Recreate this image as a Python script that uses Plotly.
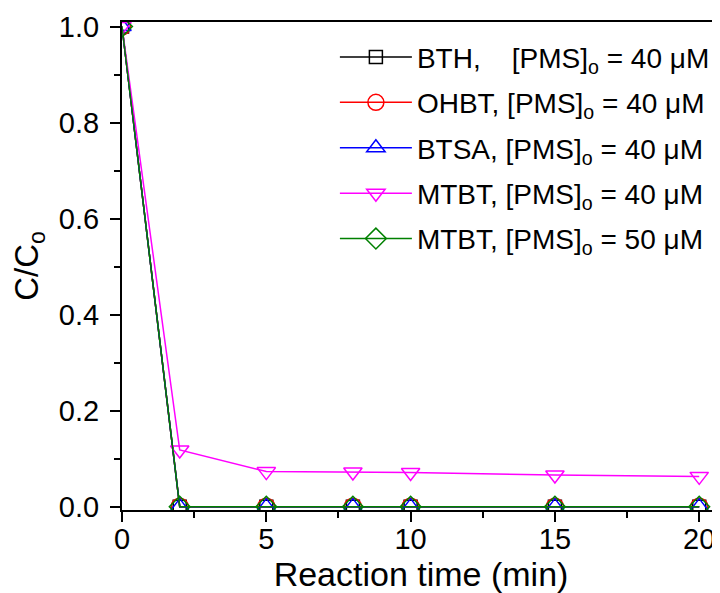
import plotly.graph_objects as go

time_min = [0, 2, 5, 8, 10, 15, 20]
bth_40 = [1.0, 0.0, 0.0, 0.0, 0.0, 0.0, 0.0]
ohbt_40 = [1.0, 0.0, 0.0, 0.0, 0.0, 0.0, 0.0]
btsa_40 = [1.0, 0.0, 0.0, 0.0, 0.0, 0.0, 0.0]
mtbt_40 = [1.0, 0.118, 0.073, 0.072, 0.071, 0.066, 0.063]
mtbt_50 = [1.0, 0.0, 0.0, 0.0, 0.0, 0.0, 0.0]

series_names = [
    "BTH,\u00a0\u00a0\u00a0\u00a0[PMS]<sub>o</sub> = 40 \u03bcM",
    "OHBT, [PMS]<sub>o</sub> = 40 \u03bcM",
    "BTSA, [PMS]<sub>o</sub> = 40 \u03bcM",
    "MTBT, [PMS]<sub>o</sub> = 40 \u03bcM",
    "MTBT, [PMS]<sub>o</sub> = 50 \u03bcM",
]
series_values = [bth_40, ohbt_40, btsa_40, mtbt_40, mtbt_50]
colors = ["#000000", "#FF0000", "#0000FF", "#FF00FF", "#008000"]
symbols = ["square-open", "circle-open", "triangle-up-open", "triangle-down-open", "diamond-open"]
sizes = [13, 17, 16, 16, 16]

FONT = "Arial, Liberation Sans, sans-serif"

fig = go.Figure()
for i, (name, vals) in enumerate(zip(series_names, series_values)):
    fig.add_trace(go.Scatter(
        x=time_min, y=vals, name=name, mode="lines+markers",
        line=dict(color=colors[i], width=1.5),
        marker=dict(symbol=symbols[i], size=sizes[i], color=colors[i],
                    line=dict(color=colors[i], width=1.5)),
        legendgroup=f"g{i}", cliponaxis=True,
    ))

# the page body has an 8px margin, so the figure is sized/offset to compensate
fig.update_layout(
    width=712, height=585,
    margin=dict(l=114, r=0, t=14, b=83, autoexpand=False),
    paper_bgcolor="white", plot_bgcolor="white",
    font=dict(family=FONT, color="black"),
    showlegend=True,
    legend=dict(
        x=0.356, y=0.979, xanchor="left", yanchor="top",
        font=dict(family=FONT, size=28, color="black"),
        bgcolor="rgba(0,0,0,0)", itemwidth=72, tracegroupgap=6,
    ),
)
fig.update_xaxes(
    range=[0, 20.72], tickmode="array", tickvals=[0, 5, 10, 15, 20],
    ticktext=["0", "5", "10", "15", "20"],
    showline=True, linecolor="black", linewidth=2, mirror=True,
    ticks="outside", ticklen=10, tickwidth=2, tickcolor="black",
    minor=dict(tickvals=[2.5, 7.5, 12.5, 17.5], ticks="outside", ticklen=6, tickwidth=2, tickcolor="black"),
    showgrid=False, zeroline=False, automargin=False,
    tickfont=dict(size=29), ticklabelstandoff=-8,
    title=dict(text="Reaction time (min)", font=dict(size=34), standoff=12),
)
fig.update_yaxes(
    range=[-0.007, 1.0095], tickmode="array", tickvals=[0, 0.2, 0.4, 0.6, 0.8, 1.0],
    ticktext=["0.0", "0.2", "0.4", "0.6", "0.8", "1.0"],
    showline=True, linecolor="black", linewidth=2, mirror=False,
    ticks="outside", ticklen=10, tickwidth=2, tickcolor="black",
    minor=dict(tickvals=[0.1, 0.3, 0.5, 0.7, 0.9], ticks="outside", ticklen=6, tickwidth=2, tickcolor="black"),
    showgrid=False, zeroline=False, automargin=False,
    tickfont=dict(size=29), ticklabelstandoff=5,
    title=dict(text="C/C<sub>o</sub>", font=dict(size=33), standoff=10),
)

fig.write_html("out.html")
